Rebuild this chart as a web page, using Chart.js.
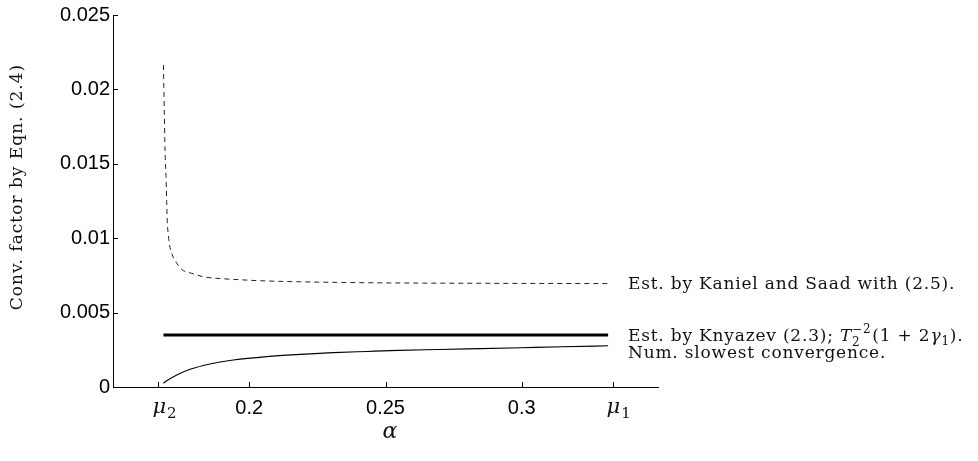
<!DOCTYPE html>
<html>
<head>
<meta charset="utf-8">
<script src="https://cdn.jsdelivr.net/npm/chart.js@4/dist/chart.umd.min.js"></script>
<style>
  html, body { margin: 0; padding: 0; background: #fff; }
  canvas { display: block; }
</style>
</head>
<body>
<canvas id="c" width="978" height="461"></canvas>
<script>
// ---- Data ----
const kanielAlpha = [0.1685, 0.1688, 0.1691, 0.1695, 0.1697, 0.1699, 0.1703, 0.1707, 0.1715, 0.1728, 0.1752, 0.1789, 0.1831, 0.1899, 0.1966, 0.2027, 0.2186, 0.2480, 0.2847, 0.3317];
const kanielValues = [0.02164, 0.0188, 0.0159, 0.0139, 0.0124, 0.0112, 0.0102, 0.0096, 0.0090, 0.0085, 0.0079, 0.00764, 0.00741, 0.00728, 0.00721, 0.00715, 0.00707, 0.00700, 0.00697, 0.00695];

const knyazevAlpha = [0.1685, 0.3317];
const knyazevValues = [0.0035, 0.0035];

const numAlpha = [0.1685, 0.1700, 0.1734, 0.1783, 0.1856, 0.1942, 0.2065, 0.2187, 0.2309, 0.2432, 0.2548, 0.2700, 0.2850, 0.3000, 0.3150, 0.3317];
const numValues = [0.00025, 0.00045, 0.00081, 0.00119, 0.00155, 0.00181, 0.00204, 0.00219, 0.00231, 0.00239, 0.00246, 0.00252, 0.00258, 0.00264, 0.00270, 0.00277];

const xTickValues = [0.16667, 0.2, 0.25, 0.3, 0.33333];
const xTickLabels = ['', '0.2', '0.25', '0.3', ''];
// symbolic tick labels: [tick index, base glyph, subscript]
const xSymbolTicks = [[0, 'μ', '2'], [4, 'μ', '1']];
const yTickValues = [0, 0.005, 0.01, 0.015, 0.02, 0.025];
const yTickLabels = ['0', '0.005', '0.01', '0.015', '0.02', '0.025'];

const yTitle = 'Conv. factor by Eqn. (2.4)';
const xTitle = 'α';
const labelKaniel = 'Est. by Kaniel and Saad with (2.5).';
const labelKnyazevPrefix = 'Est. by Knyazev (2.3); ';
const labelNum = 'Num. slowest convergence.';

const toPoints = (xs, ys) => xs.map((x, i) => ({ x: x, y: ys[i] }));

const SERIF = '"DejaVu Serif", "Liberation Serif", serif';
const SANS = '"Liberation Sans", Arial, sans-serif';

const decorPlugin = {
  id: 'decor',
  afterDraw(chart) {
    const ctx = chart.ctx;
    const xs = chart.scales.x, ys = chart.scales.y;
    const area = chart.chartArea;
    ctx.save();
    // inward tick marks
    ctx.strokeStyle = '#000';
    ctx.lineWidth = 1;
    ctx.beginPath();
    xTickValues.forEach(v => {
      const px = Math.round(xs.getPixelForValue(v)) + 0.5;
      ctx.moveTo(px, area.bottom);
      ctx.lineTo(px, area.bottom - 5);
    });
    yTickValues.forEach(v => {
      const py = Math.round(ys.getPixelForValue(v)) + 0.5;
      ctx.moveTo(area.left, py);
      ctx.lineTo(area.left + 5, py);
    });
    ctx.stroke();

    ctx.fillStyle = '#111';
    // symbolic x tick labels (mu with subscript)
    ctx.textAlign = 'left';
    ctx.textBaseline = 'alphabetic';
    xSymbolTicks.forEach(([idx, base, sub]) => {
      const px = xs.getPixelForValue(xTickValues[idx]);
      ctx.font = 'italic 21px ' + SERIF;
      const w = ctx.measureText(base).width;
      ctx.fillText(base, px - 6, 413);
      ctx.font = '15px ' + SERIF;
      ctx.fillText(sub, px - 6 + w + 1, 418);
    });

    // y title
    ctx.save();
    ctx.translate(18, 187);
    ctx.rotate(-Math.PI / 2);
    ctx.font = '17px ' + SERIF;
    ctx.letterSpacing = '1px';
    ctx.textAlign = 'center';
    ctx.textBaseline = 'middle';
    ctx.fillText(yTitle, 0, 0);
    ctx.restore();

    // x title
    ctx.font = 'italic 22px ' + SERIF;
    ctx.textAlign = 'center';
    ctx.textBaseline = 'middle';
    ctx.fillText(xTitle, 390, 432);

    // annotations
    const tx = 628;
    ctx.textAlign = 'left';
    ctx.textBaseline = 'alphabetic';
    ctx.letterSpacing = '0.8px';
    ctx.font = '17px ' + SERIF;
    ctx.fillText(labelKaniel, tx, 289);
    ctx.fillText(labelNum, tx, 358);

    // Knyazev line with math
    let x = tx;
    const base = 341;
    const run = (text, font, dy) => {
      ctx.font = font;
      ctx.fillText(text, x, base + (dy || 0));
      return ctx.measureText(text).width;
    };
    x += run(labelKnyazevPrefix, '17px ' + SERIF);
    x += run('T', 'italic 17px ' + SERIF);
    const sx = x;
    const wSub = run('2', '12px ' + SERIF, 5);
    x = sx;
    const wSup = run('−2', '12px ' + SERIF, -8);
    x = sx + Math.max(wSub, wSup) + 1;
    x += run('(1 + 2', '17px ' + SERIF);
    x += run('γ', 'italic 17px ' + SERIF);
    x += run('1', '12px ' + SERIF, 4);
    x += run(').', '17px ' + SERIF);
    ctx.restore();
  }
};

new Chart(document.getElementById('c'), {
  type: 'line',
  data: {
    datasets: [
      {
        label: labelKaniel,
        data: toPoints(kanielAlpha, kanielValues),
        borderColor: '#222',
        borderWidth: 1,
        borderDash: [5, 4],
        pointRadius: 0,
        cubicInterpolationMode: 'monotone',
        fill: false
      },
      {
        label: 'Knyazev',
        data: toPoints(knyazevAlpha, knyazevValues),
        borderColor: '#000',
        borderWidth: 3,
        pointRadius: 0,
        fill: false
      },
      {
        label: labelNum,
        data: toPoints(numAlpha, numValues),
        borderColor: '#000',
        borderWidth: 1.1,
        pointRadius: 0,
        cubicInterpolationMode: 'monotone',
        fill: false
      }
    ]
  },
  options: {
    responsive: false,
    animation: false,
    devicePixelRatio: 1,
    layout: { padding: { left: 0, top: 15, right: 320, bottom: 0 } },
    plugins: { legend: { display: false }, tooltip: { enabled: false } },
    scales: {
      x: {
        type: 'linear',
        min: 0.15,
        max: 0.35,
        grid: { display: false, drawTicks: false },
        border: { display: true, color: '#000', width: 1 },
        afterBuildTicks: (scale) => { scale.ticks = xTickValues.map(v => ({ value: v })); },
        afterFit: (scale) => { scale.height = 74; },
        ticks: {
          padding: 9,
          color: '#000',
          autoSkip: false,
          maxRotation: 0,
          callback: (value, index) => xTickLabels[index],
          font: { family: SANS, size: 20 }
        }
      },
      y: {
        type: 'linear',
        min: 0,
        max: 0.025,
        grid: { display: false, drawTicks: false },
        border: { display: true, color: '#000', width: 1 },
        afterBuildTicks: (scale) => { scale.ticks = yTickValues.map(v => ({ value: v })); },
        afterFit: (scale) => { scale.width = 113; },
        ticks: {
          padding: 3,
          color: '#000',
          callback: (value, index) => yTickLabels[index],
          font: { family: SANS, size: 20 }
        }
      }
    }
  },
  plugins: [decorPlugin]
});
</script>
</body>
</html>
